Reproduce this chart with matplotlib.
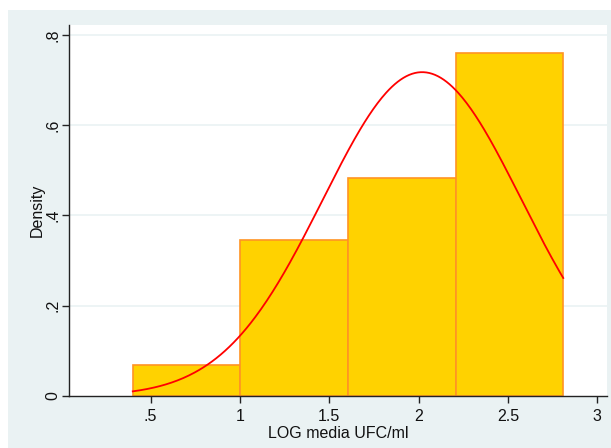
import matplotlib
matplotlib.use("Agg")
import matplotlib.pyplot as plt
import numpy as np
from matplotlib.patches import Rectangle

plt.rcParams["font.family"] = ["Liberation Sans", "DejaVu Sans"]

# Histogram of log mean CFU/ml (density scale) with normal overlay
bin_edges = [0.40, 1.0025, 1.605, 2.2075, 2.81]
densities = [0.0692, 0.3458, 0.4840, 0.7607]
norm_mean = 2.02
norm_sd = 0.556

x_ticks = [0.5, 1, 1.5, 2, 2.5, 3]
x_tick_labels = [".5", "1", "1.5", "2", "2.5", "3"]
y_ticks = [0, 0.2, 0.4, 0.6, 0.8]
y_tick_labels = ["0", ".2", ".4", ".6", ".8"]

W, H = 611, 448
fig = plt.figure(figsize=(W / 100, H / 100), dpi=100)
fig.patch.set_facecolor("white")

# Outer graph region
bg = "#EAF2F3"
fig.add_artist(Rectangle((8 / W, 0), 1 - 8 / W, 1 - 10 / H,
                         transform=fig.transFigure, facecolor=bg,
                         edgecolor="none", zorder=-5))

ax = fig.add_axes([69 / W, 52 / H, (607 - 69) / W, (396 - 25) / H])
ax.set_facecolor("white")

widths = np.diff(bin_edges)
ax.bar(bin_edges[:-1], densities, width=widths, align="edge",
       color="#FFD200", edgecolor="#FF9424", linewidth=1.2, zorder=2)

xs = np.linspace(bin_edges[0], bin_edges[-1], 300)
ys = np.exp(-0.5 * ((xs - norm_mean) / norm_sd) ** 2) / (norm_sd * np.sqrt(2 * np.pi))
ax.plot(xs, ys, color="#FF0000", linewidth=1.3, zorder=3)

ax.set_xlim(0.043, 3.055)
ax.set_ylim(0, 0.822)

for yv in y_ticks[1:]:
    ax.axhline(yv, color=bg, linewidth=1.2, zorder=1)

ax.set_xticks(x_ticks)
ax.set_xticklabels(x_tick_labels, fontsize=11.5)
ax.set_yticks(y_ticks)
ax.set_yticklabels(y_tick_labels, fontsize=11.5, rotation=90, va="center")

for side in ("top", "right"):
    ax.spines[side].set_visible(False)
for side in ("left", "bottom"):
    ax.spines[side].set_color("#222222")
    ax.spines[side].set_linewidth(1.0)
    ax.spines[side].set_zorder(4)

ax.tick_params(axis="both", direction="out", length=5, width=1.0,
               color="#222222", labelcolor="#111111")
ax.tick_params(axis="x", pad=4)
ax.tick_params(axis="y", pad=1)

ax.set_xlabel("LOG media UFC/ml", fontsize=11.5, labelpad=2, color="#111111")
ax.set_ylabel("Density", fontsize=11.5, labelpad=1, color="#111111")

fig.savefig("out.png", dpi=100)
